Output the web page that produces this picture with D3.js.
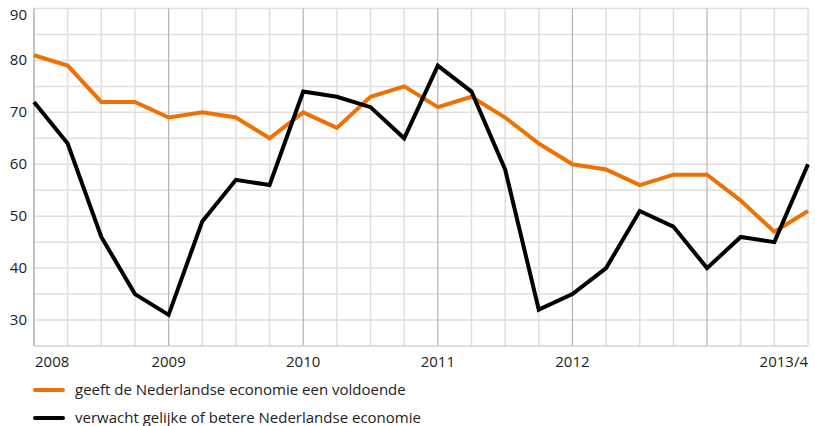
<!DOCTYPE html>
<html><head><meta charset="utf-8">
<script src="https://cdn.jsdelivr.net/npm/d3@7"></script>
<style>body{margin:0;background:#fff}svg{display:block;font-family:"Open Sans","Noto Sans",sans-serif}</style>
</head><body><svg id="c" width="815" height="426"></svg>
<script>
const quarters = d3.range(24); // 2008 Q1 .. 2013 Q4
const voldoende = [81,79,72,72,69,70,69,65,70,67,73,75,71,73,69,64,60,59,56,58,58,53,47,51];
const verwacht  = [72,64,46,35,31,49,57,56,74,73,71,65,79,74,59,32,35,40,51,48,40,46,45,60];
const yTicks = [30,40,50,60,70,80,90];
const xLabels = [{i:0,t:"2008",a:"start"},{i:4,t:"2009",a:"middle"},{i:8,t:"2010",a:"middle"},{i:12,t:"2011",a:"middle"},{i:16,t:"2012",a:"middle"},{i:23,t:"2013/4",a:"end"}];
const seriesNames = ["geeft de Nederlandse economie een voldoende","verwacht gelijke of betere Nederlandse economie"];
const colors = ["#ee7203","#000000"];

const svg = d3.select("#c");
const x = d3.scaleLinear().domain([0,23]).range([34,808]);
const y = d3.scaleLinear().domain([25,90]).range([346,8.5]);

const g = svg.append("g");
g.selectAll(".hg").data(d3.range(30,91,5)).join("line")
  .attr("x1",34).attr("x2",808).attr("y1",d=>y(d)).attr("y2",d=>y(d))
  .attr("stroke","#e1dede").attr("stroke-width",1.5);
g.selectAll(".vg").data(quarters.slice(1)).join("line")
  .attr("x1",d=>x(d)).attr("x2",d=>x(d)).attr("y1",y(90)).attr("y2",y(25))
  .attr("stroke",d=>d%4===0?"#b8b2b4":"#e1dede").attr("stroke-width",d=>d%4===0?1.2:1.5);
g.append("line").attr("x1",x(0)).attr("x2",x(0)).attr("y1",y(90)).attr("y2",y(25)).attr("stroke","#b5afb1").attr("stroke-width",1.5);
g.append("line").attr("x1",x(0)).attr("x2",x(23)).attr("y1",y(25)).attr("y2",y(25)).attr("stroke","#d6d2d2").attr("stroke-width",1.5);

svg.selectAll(".yl").data(yTicks).join("text")
  .attr("x",27).attr("y",d=>Math.max(y(d)+5,20)).attr("text-anchor","end")
  .attr("font-size",15).attr("fill","#222").text(d=>d);
svg.selectAll(".xl").data(xLabels).join("text")
  .attr("x",d=>x(d.i)+(d.a==="start"?1:0)).attr("y",367).attr("text-anchor",d=>d.a)
  .attr("font-size",15).attr("fill","#222").text(d=>d.t);

const line = d3.line().x((d,i)=>x(i)).y(d=>y(d));
[voldoende, verwacht].forEach((s,k)=>{
  svg.append("path").datum(s).attr("d",line).attr("fill","none")
    .attr("stroke",colors[k]).attr("stroke-width",4)
    .attr("stroke-linejoin","miter");
});

seriesNames.forEach((n,k)=>{
  const ly = 390 + k*28;
  svg.append("line").attr("x1",35).attr("x2",63).attr("y1",ly).attr("y2",ly)
    .attr("stroke",colors[k]).attr("stroke-width",4).attr("stroke-linecap","round");
  svg.append("text").attr("x",75).attr("y",ly+5).attr("font-size",15).attr("fill","#222").text(n);
});
</script></body></html>
